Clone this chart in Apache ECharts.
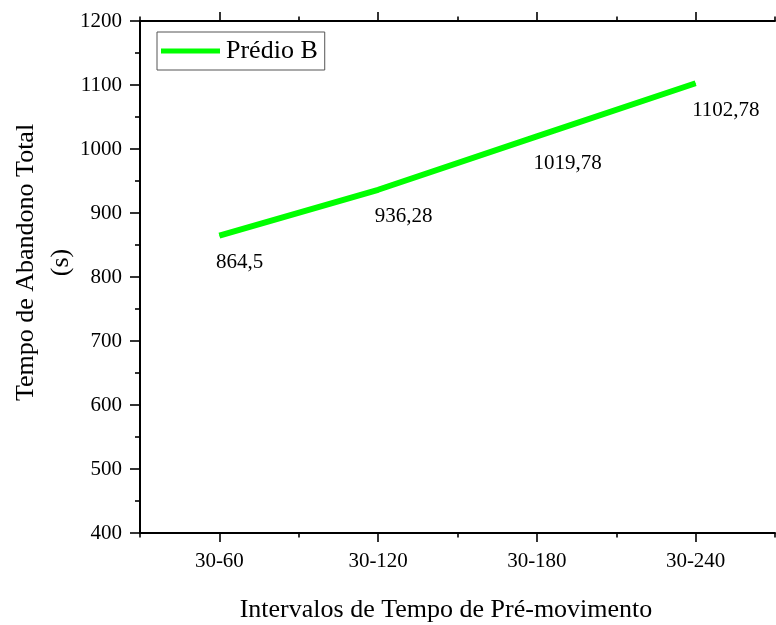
<!DOCTYPE html>
<html>
<head>
<meta charset="utf-8">
<script src="https://cdn.jsdelivr.net/npm/echarts@6/dist/echarts.min.js"></script>
<style>html,body{margin:0;padding:0;background:#fff}#c{width:776px;height:625px}</style>
</head>
<body>
<div id="c"></div>
<script>
var categories = ['30-60', '30-120', '30-180', '30-240'];
var predioB = [864.5, 936.28, 1019.78, 1102.78];
var yTicks = [400, 500, 600, 700, 800, 900, 1000, 1100, 1200];
var seriesName = 'Prédio B';
var xTitle = 'Intervalos de Tempo de Pré-movimento';
var yTitle = 'Tempo de Abandono Total\n(s)';

var FONT = 'Liberation Serif';
var chart = echarts.init(document.getElementById('c'), null, {renderer: 'canvas'});

function catAxis(pos, major, showLine) {
  return {
    type: 'category', position: pos, data: categories, boundaryGap: true,
    axisLine: {show: showLine, lineStyle: {color: '#000', width: 2}},
    axisTick: {show: true, inside: false, alignWithLabel: major, interval: 0,
               length: major ? 9 : 4.5, lineStyle: {color: '#000', width: 1.6}},
    axisLabel: {show: false},
    splitLine: {show: false}
  };
}

var bottomMain = catAxis('bottom', true, true);
bottomMain.axisLabel = {show: true, interval: 0, color: '#000', fontFamily: FONT, fontSize: 21, margin: 18};
bottomMain.name = xTitle;
bottomMain.nameLocation = 'middle';
bottomMain.nameGap = 64;
bottomMain.nameMoveOverlap = false;
bottomMain.nameTextStyle = {color: '#000', fontFamily: FONT, fontSize: 26, padding: [0, 23, 0, 0]};

var option = {
  backgroundColor: '#fff',
  animation: false,
  grid: {left: 140, top: 21, right: 1, bottom: 92, containLabel: false, outerBoundsMode: 'none'},
  legend: {
    show: true, left: 157, top: 32, orient: 'vertical',
    data: [{name: seriesName, icon: 'rect'}],
    itemWidth: 59, itemHeight: 5, itemGap: 0,
    padding: [6, 7, 6, 4],
    borderColor: '#555', borderWidth: 1,
    textStyle: {color: '#000', fontFamily: FONT, fontSize: 26, padding: [0, 0, 0, 1]}
  },
  xAxis: [
    bottomMain,
    catAxis('bottom', false, false),
    catAxis('top', true, true),
    catAxis('top', false, false)
  ],
  yAxis: {
    type: 'value', min: yTicks[0], max: yTicks[yTicks.length - 1], interval: 100,
    axisLine: {show: true, lineStyle: {color: '#000', width: 2}},
    axisTick: {show: true, inside: false, length: 10, lineStyle: {color: '#000', width: 1.6}},
    minorTick: {show: true, splitNumber: 2, length: 5, lineStyle: {color: '#000', width: 1.6}},
    splitLine: {show: false},
    axisLabel: {color: '#000', fontFamily: FONT, fontSize: 21, margin: 18,
                formatter: function (v) { return String(v); }},
    name: yTitle,
    nameLocation: 'middle', nameRotate: 90, nameGap: 61, nameMoveOverlap: false,
    nameTextStyle: {color: '#000', fontFamily: FONT, fontSize: 26, lineHeight: 35, align: 'center', padding: [0, 0, 0, 29]}
  },
  series: [{
    name: seriesName, type: 'line', xAxisIndex: 0, data: predioB,
    symbol: 'circle', symbolSize: 1, showSymbol: true,
    itemStyle: {color: '#00ff00'},
    lineStyle: {color: '#00ff00', width: 6},
    label: {
      show: true, position: [-3, 17], color: '#000', fontFamily: FONT, fontSize: 21,
      formatter: function (p) { return String(p.value).replace('.', ','); }
    }
  }]
};
chart.setOption(option);
</script>
</body>
</html>
